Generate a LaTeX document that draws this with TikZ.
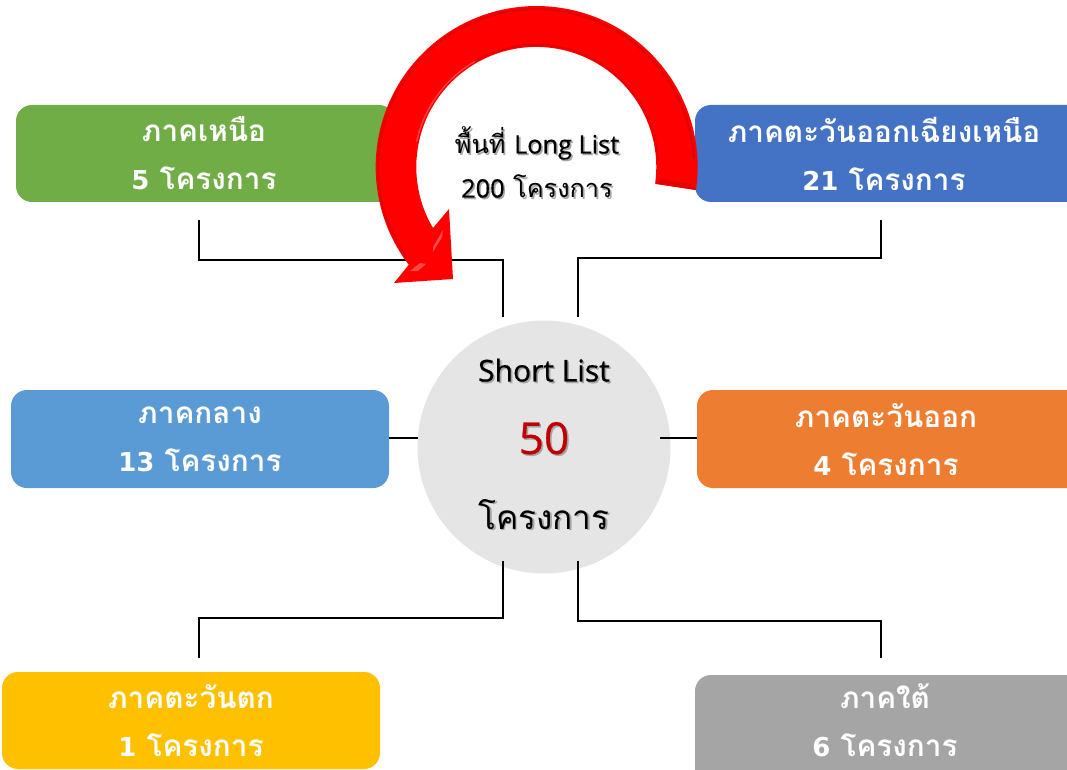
\documentclass[tikz,border=0pt]{standalone}
\usepackage{fontspec}
\newfontfamily\thaifont[Script=Thai]{Loma}
\newfontfamily\latfont[FakeBold=0.6]{Open Sans}
\newfontfamily\digfont{DejaVu Sans}
\definecolor{cgreen}{HTML}{70AD47}
\definecolor{cblue}{HTML}{4472C4}
\definecolor{clight}{HTML}{5B9BD5}
\definecolor{corange}{HTML}{ED7D31}
\definecolor{cyellow}{HTML}{FFC000}
\definecolor{cgray}{HTML}{A5A5A5}
\definecolor{ccircle}{HTML}{E5E5E5}
\definecolor{cred}{HTML}{C00000}
\definecolor{cedge}{HTML}{E60000}
\definecolor{cglow}{HTML}{FF6A6A}
\newcommand{\shadowed}[2]{\leavevmode\rlap{\kern1.2pt\raisebox{-1.2pt}{\textcolor{#1}{#2}}}#2}
\newcommand{\dig}[1]{{\digfont\bfseries\fontsize{19.5}{36}\selectfont #1}}
\newcommand{\lat}[1]{{\latfont\fontsize{19}{33}\selectfont #1}}
\tikzset{
  pxgrid/.style={x=0.75pt,y=-0.75pt},
  regionbox/.style={inner sep=0,align=center,text=white,font=\thaifont\bfseries\fontsize{22.3}{36}\selectfont},
  link/.style={draw=black,line width=1.1pt},
  redarrow/.style={fill=red,draw=none},
  darktext/.style={font=\thaifont\fontsize{19}{33}\selectfont,text=black,inner sep=0,align=center},
}
\begin{document}
\begin{tikzpicture}[pxgrid]
\useasboundingbox (0,0) rectangle (1067,770);
% circle
\node[circle,fill=ccircle,minimum size=253*0.75pt,inner sep=0] (hub) at (544,447) {};
% boxes
\fill[cgreen,rounded corners=12pt] (16,105) rectangle (395,202);
\fill[cblue,rounded corners=12pt] (695,105) -- (1100,105) -- (1100,202) -- (695,202) -- cycle;
\fill[clight,rounded corners=12pt] (11,390) rectangle (389,488);
\fill[corange,rounded corners=12pt] (697,390) -- (1100,390) -- (1100,488) -- (697,488) -- cycle;
\fill[cyellow,rounded corners=12pt] (2,672) rectangle (380,769);
\fill[cgray,rounded corners=12pt] (695,675) -- (1100,675) -- (1100,800) -- (695,800) -- cycle;
\node[regionbox] (north) at (204,153.5) {ภาคเหนือ\\\dig{5} โครงการ};
\node[regionbox] (ne) at (884,153.5) {ภาคตะวันออกเฉียงเหนือ\\\dig{21} โครงการ};
\node[regionbox] (central) at (200,439.5) {ภาคกลาง\\\dig{13} โครงการ};
\node[regionbox] (east) at (886,439.5) {ภาคตะวันออก\\\dig{4} โครงการ};
\node[regionbox] (west) at (191,720.5) {ภาคตะวันตก\\\dig{1} โครงการ};
\node[regionbox] (south) at (885,720) {ภาคใต้\\\dig{6} โครงการ};
% free ends
\coordinate (nA) at (199,220);
\coordinate (nB) at (503,317);
\coordinate (neA) at (881,220);
\coordinate (neB) at (578,317);
\coordinate (cA) at (389,438);
\coordinate (cB) at (418,438);
\coordinate (eA) at (660,438);
\coordinate (eB) at (697,438);
\coordinate (wA) at (503,561);
\coordinate (wB) at (199,658);
\coordinate (sA) at (578,561);
\coordinate (sB) at (881,658);
\draw[link] (nA) -- (199,260) -- (503,260) -- (nB);
\draw[link] (neA) -- (881,258) -- (578,258) -- (neB);
\draw[link] (cA) -- (cB);
\draw[link] (eA) -- (eB);
\draw[link] (wA) -- (503,618) -- (199,618) -- (wB);
\draw[link] (sA) -- (578,621) -- (881,621) -- (sB);
% red curved arrow
\fill[redarrow] (696,190) arc[start angle=8.2,end angle=-217.4,radius=161]
  -- (394,283) -- (453,279) -- (449,209) -- (433,228)
  arc[start angle=-210.6,end angle=8,radius=120] -- cycle;
% bevel
\draw[cedge,line width=2pt] (536,167) ++(-3:158) arc[start angle=-3,end angle=-215,radius=158];
\draw[cglow,line width=1pt,opacity=.6] (536,167) ++(-168:122) arc[start angle=-168,end angle=-120,radius=122];
\draw[cedge,line width=1.6pt] (536,167) ++(-120:122) arc[start angle=-120,end angle=-3,radius=122];
\fill[cedge] (696,190) -- (691,184) -- (660,179) -- (656,184) -- cycle;
\fill[cglow,opacity=.7] (433,247) -- (443,230) -- (442,237) -- (433,252) -- cycle;
\fill[cglow,opacity=.7] (410,271) -- (420,263) -- (426,264) -- (418,271) -- cycle;
% texts
\node[darktext] (long) at (537,163) {\shadowed{black!35}{พื้นที่ \lat{Long List}}\\\shadowed{black!35}{\lat{200} โครงการ}};
\node[inner sep=0,font=\latfont\fontsize{22.5}{24}\selectfont] (sl) at (544,371) {\shadowed{black!35}{Short List}};
\node[inner sep=0,font=\latfont\fontsize{33}{40}\selectfont,text=cred] (fifty) at (544,439) {\shadowed{black!35}{50}};
\node[inner sep=0,font=\thaifont\fontsize{25}{30}\selectfont] (proj) at (544,515) {\shadowed{black!35}{โครงการ}};
\end{tikzpicture}
\end{document}
